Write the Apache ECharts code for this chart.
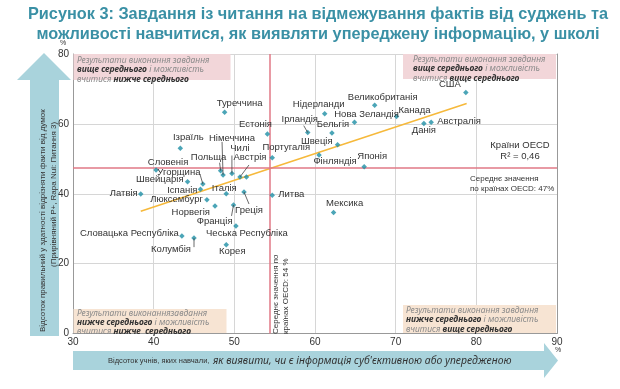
<!DOCTYPE html>
<html><head><meta charset="utf-8">
<script src="https://cdn.jsdelivr.net/npm/echarts@6/dist/echarts.min.js"></script>
<style>html,body{margin:0;padding:0;background:#fff}#c{width:620px;height:389px}</style>
</head><body><div id="c"></div>
<script>
const countries = ['США','Великобританія','Нідерланди','Нова Зеландія','Канада','Австралія','Данія','Туреччина','Естонія','Ірландія','Бельгія','Швеція','Фінляндія','Японія','Португалія','Ізраїль','Німеччина','Польща','Чилі','Австрія','','Словенія','Угорщина','Швейцарія','Іспанія','Латвія','Італія','Люксембург','Норвегія','Франція','Греція','Чеська Республіка','Корея','Словацька Республіка','Колумбія','Литва','Мексика'];
const xVals = [78.7,67.4,61.2,64.9,70.1,74.4,73.5,48.8,54.1,59.1,62.1,62.8,60.5,66.1,54.7,43.3,48.6,48.3,49.7,50.7,51.5,40.3,46.1,44.2,45.8,38.4,49.0,46.6,47.6,49.9,51.2,50.2,49.0,43.5,45.0,54.7,62.3];
const yVals = [69.0,65.3,62.9,60.5,62.1,60.5,60.1,63.3,57.1,57.5,57.4,54.0,51.1,47.7,50.3,53.0,45.4,46.6,45.8,44.8,44.8,46.8,42.8,43.4,41.3,39.9,40.0,38.3,36.5,36.8,40.5,30.8,25.4,27.9,27.3,39.6,34.6];
const meanX = 54.4, meanY = 47.3;
const trendX = [38.4, 78.8];
const trendY = [35.0, 65.8];
const xTicks = [30,40,50,60,70,80,90];
const yTicks = [0,20,40,60,80];

// label placement (pixel offsets from the point): [align, dx, dy, lineDx, lineDy]
const labelPos = {
 'США':['center',-16,-8],'Великобританія':['center',8,-8],'Нідерланди':['center',-6,-9],
 'Нова Зеландія':['center',12,-8],'Канада':['left',2,-6],'Австралія':['left',6,-1],
 'Данія':['center',0,7],'Туреччина':['center',15,-9],'Естонія':['center',-12,-10],
 'Ірландія':['center',-8,-13,-4,-7],'Бельгія':['center',1,-9],'Швеція':['right',-5,-3],
 'Фінляндія':['center',16,6],'Японія':['center',8,-10],'Португалія':['center',14,-10],
 'Ізраїль':['center',8,-11],'Німеччина':['center',9,-37,-1,-33],'Польща':['center',-12,-13,-1,-8],
 'Чилі':['center',8,-25,0,-18],'Австрія':['center',10,-20,9,-12],'Словенія':['center',12,-8],
 'Угорщина':['center',-24,-12,-3,-10],'Швейцарія':['right',-4,-2],'Іспанія':['right',-3,1],
 'Латвія':['right',-3,-1],'Італія':['center',-2,-5],'Люксембург':['right',-4,0],
 'Норвегія':['right',-5,6],'Франція':['right',-1,16,-2,11],'Греція':['center',5,18,5,12],
 'Чеська Республіка':['center',11,7],'Корея':['center',6,7],'Словацька Республіка':['right',-3,-3],
 'Колумбія':['right',-3,11,0,9],'Литва':['left',6,-1],'Мексика':['center',11,-9]
};

const pts = countries.map((n,i)=>[xVals[i], yVals[i], n]);
const LBL = '#333';
const FONT = '"Liberation Sans", Arial, sans-serif';
const QF = '"Noto Sans", "Open Sans", sans-serif';

function quad(x, y, w, h, fill, tx, ty, lines){
  return [
    {type:'rect', shape:{x:x,y:y,width:w,height:h}, style:{fill:fill}, z:1},
    {type:'text', x:tx, y:ty, z:2, style:{
      text: lines, fontFamily: QF, fontSize: 8.5, lineHeight: 9.3, fill:'#888',
      rich:{ n:{fontStyle:'italic', fontSize:8.5, fill:'#8a8a8a', fontFamily:QF, lineHeight:9.3},
             b:{fontStyle:'italic', fontWeight:'bold', fontSize:8.5, fill:'#333', fontFamily:QF, lineHeight:9.3}}
    }}
  ];
}

const chart = echarts.init(document.getElementById('c'), null, {renderer:'canvas'});
chart.setOption({
  animation:false,
  backgroundColor:'#fff',
  title:{
    text:'Рисунок 3: Завдання із читання на відмежування фактів від суджень та\nможливості навчитися, як виявляти упереджену інформацію, у школі',
    left:313, top:0, textAlign:'center',
    textStyle:{fontFamily:FONT, fontWeight:'bold', fontSize:16.3, lineHeight:19.5, color:'#3a90a5'}
  },
  grid:{left:73, right:63, top:54, bottom:55.5, containLabel:false, outerBoundsMode:'none'},
  xAxis:{type:'value', min:xTicks[0], max:xTicks[xTicks.length-1], interval:10,
    axisLine:{show:true, lineStyle:{color:'#999', width:1}}, axisTick:{show:false},
    axisLabel:{color:'#333', fontFamily:FONT, fontSize:10, margin:4},
    splitLine:{show:true, lineStyle:{color:'#d6d6d6', width:1}}},
  yAxis:[{type:'value', min:yTicks[0], max:yTicks[yTicks.length-1], interval:20,
    axisLine:{show:true, lineStyle:{color:'#999', width:1}}, axisTick:{show:false},
    axisLabel:{color:'#333', fontFamily:FONT, fontSize:10, margin:4},
    splitLine:{show:true, lineStyle:{color:'#d6d6d6', width:1}}},
   {type:'value', position:'right', min:0, max:80, interval:20,
    axisLine:{show:true, lineStyle:{color:'#999', width:1}}, axisTick:{show:false},
    axisLabel:{show:false}, splitLine:{show:false}}],
  series:[
    {type:'line', data:trendX.map((x,i)=>[x,trendY[i]]), symbol:'none',
     lineStyle:{color:'#f6b93b', width:1.6}, z:3, silent:true},
    {type:'scatter', data:pts, symbol:'diamond', symbolSize:5.5,
     itemStyle:{color:'#1e8fa5'}, z:5,
     markLine:{silent:true, symbol:'none', label:{show:false},
       lineStyle:{color:'#e07886', width:1.5, type:'solid'},
       data:[{xAxis:meanX},{yAxis:meanY}]}},
    {type:'custom', data:pts, z:6, silent:true,
     renderItem:function(params, api){
       const name = countries[params.dataIndex];
       const cfg = labelPos[name];
       if(!cfg) return null;
       const p = api.coord([api.value(0), api.value(1)]);
       const children = [{type:'text', style:{text:name, x:p[0]+cfg[1], y:p[1]+cfg[2],
         align:cfg[0], verticalAlign:'middle', fontFamily:FONT, fontSize:9.5, fill:LBL}}];
       if(cfg.length>3){
         children.push({type:'line', shape:{x1:p[0]+cfg[3], y1:p[1]+cfg[4], x2:p[0], y2:p[1]},
           style:{stroke:'#444', lineWidth:0.8}});
       }
       return {type:'group', children:children};
     }}
  ],
  graphic:[
    // left arrow
    {type:'polygon', shape:{points:[[44,53],[71,80],[59,80],[59,336],[30,336],[30,80],[17,80]]},
     style:{fill:'#a9d3dc'}, z:0},
    {type:'text', x:43, y:332, rotation:Math.PI/2, style:{text:'Відсоток правильний у здатності відрізняти факти від думок',
      fontFamily:FONT, fontSize:8, fill:'#333', align:'left', verticalAlign:'middle'}},
    {type:'text', x:54, y:267, rotation:Math.PI/2, style:{text:'(Прирівняний Р+, Rapa Nui: Питання 3)',
      fontFamily:FONT, fontSize:8, fill:'#333', align:'left', verticalAlign:'middle'}},
    // bottom arrow
    {type:'polygon', shape:{points:[[73,351],[544,351],[544,343],[558,360.5],[544,378],[544,370],[73,370]]},
     style:{fill:'#a9d3dc'}, z:0},
    {type:'text', x:108, y:361, style:{text:'Відсоток учнів, яких навчали,', fontFamily:FONT, fontSize:7.5, fill:'#333', verticalAlign:'middle'}},
    {type:'text', x:213, y:361, style:{text:'як виявити, чи є інформація суб\'єктивною або упередженою', fontFamily:QF, fontStyle:'italic', fontSize:10.4, fill:'#333', verticalAlign:'middle'}},
    // units
    {type:'text', x:63, y:43, style:{text:'%', fontFamily:FONT, fontSize:7, fill:'#333', align:'center', verticalAlign:'middle'}},
    {type:'text', x:558, y:350, style:{text:'%', fontFamily:FONT, fontSize:7, fill:'#333', align:'center', verticalAlign:'middle'}},
    // quadrant boxes
    ...quad(73.5,54,157,26,'#f2d6d9',77,56,'{n|Результати виконання завдання}\n{b|вище середнього} {n|і можливість}\n{n|вчитися} {b|нижче середнього}'),
    ...quad(403,54,153,25,'#f2d6d9',413,55,'{n|Результати виконання завдання}\n{b|вище середнього} {n|і можливість}\n{n|вчитися} {b|вище середнього}'),
    ...quad(73.5,309,153,24,'#f7e4d3',77,308.5,'{n|Результати виконаннязавдання}\n{b|нижче середнього} {n|і можливість}\n{n|вчитися} {b|нижче  середнього}'),
    ...quad(403,305,153,28,'#f7e4d3',406,306,'{n|Результати виконання завдання}\n{b|нижче середнього} {n|і можливість}\n{n|вчитися} {b|вище середнього}'),
    // annotations
    {type:'text', x:520, y:145, z:7, style:{text:'Країни OECD', fontFamily:FONT, fontSize:9.5, fill:'#333', align:'center', verticalAlign:'middle'}},
    {type:'text', x:520, y:156, z:7, style:{text:'R² = 0,46', fontFamily:FONT, fontSize:9.5, fill:'#333', align:'center', verticalAlign:'middle'}},
    {type:'text', x:470, y:179, z:7, style:{text:'Середнє значення', fontFamily:FONT, fontSize:8, fill:'#333', verticalAlign:'middle'}},
    {type:'text', x:470, y:189, z:7, style:{text:'по країнах OECD: 47%', fontFamily:FONT, fontSize:8, fill:'#333', verticalAlign:'middle'}},
    {type:'text', x:276, y:334, rotation:Math.PI/2, z:7, style:{text:'Середнє значення по', fontFamily:FONT, fontSize:8, fill:'#333', align:'left', verticalAlign:'middle'}},
    {type:'text', x:286, y:334, rotation:Math.PI/2, z:7, style:{text:'країнах OECD: 54 %', fontFamily:FONT, fontSize:8, fill:'#333', align:'left', verticalAlign:'middle'}}
  ]
});
</script></body></html>
